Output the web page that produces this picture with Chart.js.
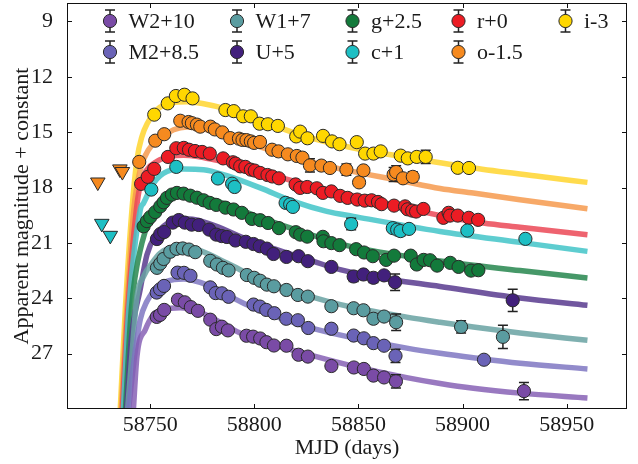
<!DOCTYPE html>
<html>
<head>
<meta charset="utf-8">
<script src="https://cdn.jsdelivr.net/npm/chart.js@4/dist/chart.umd.min.js"></script>
<style>
  html, body { margin: 0; padding: 0; background: #fff; }
  #wrap { position: relative; width: 638px; height: 464px; }
</style>
</head>
<body>
<div id="wrap"><canvas id="lc"></canvas></div>
<script>
// Multi-band light curve: apparent magnitudes vs MJD, each band shifted by a constant.
const bandNames   = ['W2', 'M2', 'W1', 'U', 'g', 'c', 'r', 'o', 'i'];
const bandOffsets = [10, 8.5, 7, 5, 2.5, 1, 0, -1.5, -3];
const bandLabels  = ['W2+10', 'M2+8.5', 'W1+7', 'U+5', 'g+2.5', 'c+1', 'r+0', 'o-1.5', 'i-3'];

const xTickValues = [58750, 58800, 58850, 58900, 58950];
const yTickValues = [9, 12, 15, 18, 21, 24, 27];

// --- observed photometry ---
const mjdW2 = [58753.1,58754.7,58756.7,58763.3,58766.6,58769.5,58772.9,58778.8,58781.7,58784.4,58787.3,58796.2,58799.4,58802.8,58805.8,58809.4,58815.4,58821.2,58825.7,58837.0,58847.8,58852.6,58857.2,58862.3,58868.0,58929.5];
const magW2 = [15.01,14.90,14.63,14.08,14.22,14.48,14.68,15.16,15.67,15.54,15.74,16.03,16.08,16.18,16.38,16.56,16.57,17.06,17.16,17.67,17.75,17.83,18.19,18.29,18.50,19.03];
const errW2 = [0.05,0.05,0.05,0.05,0.05,0.05,0.05,0.05,0.05,0.05,0.05,0.05,0.05,0.05,0.05,0.05,0.05,0.05,0.05,0.05,0.05,0.05,0.05,0.05,0.36,0.47];

const mjdM2 = [58753.1,58754.7,58756.6,58763.1,58766.2,58769.3,58778.8,58781.4,58784.4,58787.6,58799.6,58802.7,58805.7,58809.6,58815.3,58820.9,58825.9,58837.0,58847.7,58852.6,58857.2,58862.3,58867.8,58910.3];
const magM2 = [15.19,15.01,14.83,14.11,14.12,14.28,14.91,15.22,15.23,15.42,15.84,15.95,16.13,16.31,16.61,16.69,17.11,17.15,17.52,17.67,17.93,18.07,18.62,18.83];
const errM2 = [0.05,0.05,0.05,0.05,0.05,0.05,0.05,0.05,0.05,0.05,0.05,0.05,0.05,0.05,0.05,0.05,0.05,0.05,0.05,0.05,0.05,0.05,0.36,0.10];

const mjdW1 = [58753.2,58754.8,58756.4,58759.6,58762.6,58765.6,58768.6,58771.6,58778.8,58782.0,58784.9,58787.6,58796.4,58799.9,58802.8,58806.0,58809.4,58815.4,58820.9,58825.7,58837.0,58847.7,58852.4,58857.2,58862.3,58868.1,58899.3,58919.4];
const magW1 = [15.35,15.12,14.87,14.48,14.32,14.30,14.36,14.50,14.97,15.17,15.35,15.49,15.74,15.89,16.05,16.26,16.35,16.55,16.82,16.91,17.43,17.54,17.65,18.11,17.99,18.30,18.55,19.09];
const errW1 = [0.05,0.05,0.05,0.05,0.05,0.05,0.05,0.05,0.05,0.05,0.05,0.05,0.05,0.05,0.05,0.05,0.05,0.05,0.05,0.05,0.05,0.05,0.05,0.20,0.20,0.45,0.33,0.63];

const mjdU = [58753.2,58754.8,58756.7,58760.8,58763.7,58766.6,58769.9,58773.3,58778.3,58781.7,58784.3,58786.8,58790.9,58795.9,58799.6,58802.6,58806.0,58809.2,58815.4,58821.2,58825.7,58837.0,58847.7,58852.4,58857.2,58862.3,58867.6,58924.1];
const magU = [15.79,15.52,15.41,14.90,14.76,14.90,15.01,15.03,15.28,15.55,15.63,15.68,15.87,15.94,16.06,16.18,16.31,16.60,16.76,16.72,16.99,17.30,17.82,17.71,17.89,17.76,18.13,19.11];
const errU = [0.05,0.05,0.05,0.05,0.05,0.05,0.05,0.05,0.05,0.05,0.05,0.05,0.05,0.05,0.05,0.05,0.05,0.05,0.05,0.05,0.05,0.05,0.27,0.05,0.25,0.05,0.45,0.60];

const mjdG = [58746.8,58748.4,58750.0,58752.4,58754.8,58756.4,58758.0,58760.4,58762.8,58766.0,58769.2,58772.4,58775.6,58778.5,58781.7,58786.1,58790.0,58794.0,58798.8,58802.8,58806.6,58811.8,58819.9,58822.0,58825.4,58832.9,58833.2,58837.0,58840.9,58848.9,58852.7,58856.9,58863.3,58867.1,58875.1,58878.0,58881.3,58884.4,58887.8,58894.1,58898.1,58904.1,58907.6];
const magG = [17.60,17.32,17.10,16.83,16.52,16.30,16.06,15.88,15.79,15.83,15.94,16.05,16.19,16.33,16.44,16.59,16.69,16.87,17.20,17.27,17.42,17.70,17.92,18.05,18.16,18.17,18.41,18.51,18.62,18.84,19.02,19.22,19.42,19.19,19.19,19.67,19.42,19.44,19.73,19.58,19.80,20.00,19.98];
const errG = [0.05,0.05,0.05,0.05,0.05,0.05,0.05,0.05,0.05,0.05,0.05,0.05,0.05,0.05,0.05,0.05,0.05,0.05,0.05,0.05,0.05,0.05,0.05,0.05,0.05,0.05,0.05,0.05,0.05,0.05,0.05,0.05,0.05,0.05,0.05,0.05,0.05,0.05,0.05,0.05,0.05,0.05,0.05];

const mjdC = [58750.5,58762.5,58782.5,58789.3,58790.5,58815.0,58817.2,58818.5,58846.5,58866.5,58868.6,58870.2,58874.3,58902.3,58930.2];
const magC = [17.11,15.88,16.51,16.79,16.97,17.83,17.91,18.05,18.98,19.20,19.28,19.36,19.24,19.33,19.78];
const errC = [0.05,0.05,0.05,0.05,0.05,0.05,0.05,0.05,0.31,0.05,0.05,0.25,0.05,0.05,0.05];

const mjdR = [58745.6,58748.8,58751.9,58758.5,58762.5,58766.1,58768.6,58771.5,58774.9,58778.6,58785.0,58789.7,58791.0,58793.2,58795.7,58798.3,58800.2,58802.8,58806.3,58808.6,58811.8,58819.8,58822.0,58825.4,58830.0,58832.9,58837.0,58841.2,58844.8,58849.4,58853.0,58856.3,58859.4,58861.1,58867.1,58872.4,58873.6,58875.8,58877.7,58881.2,58890.8,58893.3,58894.0,58897.7,58903.0,58907.5];
const magR = [17.80,17.42,16.99,16.34,15.87,15.85,15.95,16.02,16.07,16.16,16.42,16.63,16.70,16.85,16.88,17.03,17.08,17.21,17.32,17.40,17.50,17.83,18.02,17.97,18.04,18.29,18.21,18.45,18.56,18.65,18.71,18.69,18.78,18.90,18.98,19.02,19.18,19.25,19.30,19.16,19.64,19.37,19.52,19.52,19.64,19.75];
const errR = [0.05,0.05,0.05,0.05,0.05,0.05,0.05,0.05,0.05,0.05,0.05,0.05,0.05,0.05,0.05,0.05,0.05,0.05,0.05,0.05,0.05,0.05,0.05,0.05,0.05,0.05,0.05,0.05,0.05,0.05,0.05,0.05,0.05,0.05,0.05,0.05,0.05,0.05,0.05,0.05,0.05,0.05,0.05,0.05,0.05,0.05];

const mjdO = [58744.7,58752.4,58756.7,58764.4,58768.4,58770.0,58772.4,58774.0,58778.9,58781.0,58784.6,58788.4,58792.6,58794.3,58796.2,58798.3,58799.9,58802.7,58808.5,58811.6,58816.1,58820.4,58823.1,58826.7,58832.2,58836.3,58844.2,58850.3,58852.4,58866.9,58868.1,58871.4,58876.1];
const magO = [18.11,16.96,16.61,15.88,15.95,16.01,16.09,16.20,16.20,16.35,16.51,16.82,16.85,16.92,16.93,17.00,17.08,17.03,17.45,17.54,17.70,17.79,17.88,18.30,18.31,18.44,18.53,19.22,18.57,18.79,18.66,19.00,18.92];
const errO = [0.05,0.05,0.05,0.05,0.05,0.05,0.05,0.05,0.05,0.05,0.05,0.05,0.05,0.05,0.05,0.05,0.05,0.05,0.05,0.05,0.05,0.05,0.05,0.36,0.05,0.05,0.30,0.05,0.05,0.38,0.34,0.05,0.27];

const mjdI = [58751.9,58758.4,58762.3,58766.4,58770.3,58786.1,58790.1,58794.6,58798.3,58802.5,58806.5,58811.3,58820.1,58822.0,58825.5,58833.0,58837.3,58840.9,58849.2,58853.2,58857.2,58860.7,58870.3,58873.7,58878.0,58882.3,58897.7,58903.1];
const magI = [17.05,16.44,16.04,15.97,16.17,16.80,16.86,17.14,17.14,17.54,17.57,17.66,18.23,17.97,18.33,18.20,18.50,18.65,18.54,19.16,19.16,19.04,19.27,19.42,19.34,19.34,19.93,19.94];
const errI = [0.05,0.05,0.05,0.05,0.05,0.05,0.05,0.05,0.05,0.05,0.05,0.05,0.05,0.05,0.05,0.05,0.05,0.05,0.05,0.05,0.25,0.05,0.05,0.05,0.05,0.36,0.05,0.05];

// --- pre-explosion upper limits ---
const limMjdC = [58726.7, 58730.8];
const limMagC = [18.95, 19.60];
const limMjdO = [58724.8, 58735.4, 58736.6];
const limMagO = [19.21, 18.50, 18.64];

// --- model light curves ---
const modMjdW2 = [58741.8,58743.6,58747.6,58751.6,58756.4,58764.4,58770.8,58778.8,58793.2,58809.2,58828.4,58847.6,58873.2,58889.2,58905.2,58927.6,58960.0];
const modMagW2 = [20.2,17.15,15.70,14.89,14.62,14.52,14.62,15.01,15.88,16.51,17.12,17.68,18.30,18.62,18.88,19.14,19.40];
const modMjdM2 = [58739.4,58742.3,58745.2,58748.4,58752.4,58758.0,58766.0,58774.0,58783.6,58796.4,58812.4,58828.4,58847.6,58873.2,58889.2,58905.2,58927.6,58960.0];
const modMagM2 = [21.7,18.8,16.65,15.66,15.03,14.58,14.45,14.64,15.13,15.85,16.57,17.15,17.65,18.20,18.48,18.72,19.02,19.33];
const modMjdW1 = [58739.0,58741.4,58743.6,58746.8,58750.8,58754.8,58761.2,58767.6,58774.0,58786.8,58802.8,58818.8,58834.8,58847.6,58873.2,58889.2,58905.2,58927.6,58960.0];
const modMagW1 = [23.2,19.76,16.9,15.81,15.09,14.55,14.25,14.22,14.42,15.09,15.99,16.62,17.15,17.50,18.02,18.30,18.56,18.88,19.28];
const modMjdU = [58738.5,58740.9,58745.2,58748.4,58752.4,58758.0,58764.4,58771.6,58781.2,58798.0,58828.4,58841.2,58858.0,58889.2,58927.6,58960.0];
const modMagU = [25.2,21.2,18.5,16.64,15.6,14.96,14.69,14.74,15.07,15.88,17.0,17.45,17.85,18.36,18.98,19.38];
const modMjdG = [58738.0,58740.9,58746.0,58750.0,58754.8,58761.2,58767.6,58777.2,58788.4,58802.8,58828.4,58841.2,58860.4,58889.2,58927.6,58960.0];
const modMagG = [27.7,22.1,18.5,17.24,16.52,15.98,15.89,16.07,16.48,17.13,18.1,18.55,19.0,19.48,20.0,20.40];
const modMjdC = [58737.0,58739.7,58745.2,58746.8,58751.6,58758.0,58766.0,58775.6,58786.8,58802.8,58818.8,58834.8,58847.6,58889.2,58927.6,58960.0];
const modMagC = [29.2,23.6,18.2,17.84,16.76,16.13,16.00,16.03,16.36,17.02,17.75,18.29,18.56,19.38,19.97,20.46];
const modMjdR = [58736.5,58739.2,58743.3,58745.2,58748.4,58753.2,58760.0,58766.0,58772.0,58782.0,58794.8,58810.8,58828.4,58847.6,58873.2,58892.0,58910.0,58927.6,58960.0];
const modMagR = [30.2,24.6,19.2,17.85,17.03,16.58,16.30,16.25,16.30,16.53,16.85,17.40,17.94,18.44,19.12,19.58,19.92,20.15,20.56];
const modMjdO = [58736.0,58738.7,58742.1,58745.2,58749.2,58754.8,58761.2,58767.6,58775.6,58786.8,58802.8,58818.8,58841.2,58870.0,58889.2,58905.2,58927.6,58960.0];
const modMagO = [31.7,26.1,20.7,18.53,17.45,16.82,16.37,16.22,16.33,16.64,17.30,17.85,18.49,19.12,19.55,19.80,20.16,20.65];
const modMjdI = [58735.5,58738.0,58741.2,58743.6,58746.0,58748.7,58753.2,58759.6,58767.6,58775.6,58786.8,58802.8,58822.0,58847.6,58873.2,58905.2,58937.2,58960.0];
const modMagI = [33.2,27.6,22.2,19.49,18.23,17.50,16.78,16.42,16.35,16.46,16.75,17.36,18.14,18.86,19.36,19.94,20.40,20.72];

// --- styling per band ---
const markerColors = ['#7A4BA6', '#6A63B7', '#5A9CA0', '#42207C', '#137A3B', '#1DBFC4', '#EC1C24', '#F68A1F', '#FFD700'];
const lineColors = [
  'rgba(130,92,178,0.82)', 'rgba(122,114,192,0.82)', 'rgba(104,162,162,0.85)',
  'rgba(88,58,142,0.85)', 'rgba(38,134,78,0.85)', 'rgba(66,196,200,0.85)',
  'rgba(235,72,86,0.85)', 'rgba(246,154,78,0.85)', 'rgba(255,214,52,0.88)'
];

const obs = {
  W2: [mjdW2, magW2, errW2], M2: [mjdM2, magM2, errM2], W1: [mjdW1, magW1, errW1],
  U: [mjdU, magU, errU], g: [mjdG, magG, errG], c: [mjdC, magC, errC],
  r: [mjdR, magR, errR], o: [mjdO, magO, errO], i: [mjdI, magI, errI]
};
const model = {
  W2: [modMjdW2, modMagW2], M2: [modMjdM2, modMagM2], W1: [modMjdW1, modMagW1],
  U: [modMjdU, modMagU], g: [modMjdG, modMagG], c: [modMjdC, modMagC],
  r: [modMjdR, modMagR], o: [modMjdO, modMagO], i: [modMjdI, modMagI]
};
const limits = { c: [limMjdC, limMagC], o: [limMjdO, limMagO] };

const shifted = (xs, ys, off) => xs.map((x, k) => ({ x: x, y: ys[k] + off }));

const datasets = [];
bandNames.forEach((b, k) => {
  const [mx, my] = model[b];
  datasets.push({
    label: bandLabels[k] + ' model',
    data: shifted(mx, my, bandOffsets[k]),
    showLine: true,
    borderColor: lineColors[k],
    borderWidth: 5.5,
    pointRadius: 0,
    pointHoverRadius: 0,
    cubicInterpolationMode: 'monotone',
    order: 3
  });
});
bandNames.forEach((b, k) => {
  const [ox, oy, oe] = obs[b];
  datasets.push({
    label: bandLabels[k],
    data: shifted(ox, oy, bandOffsets[k]),
    errs: oe,
    showLine: false,
    backgroundColor: markerColors[k],
    borderColor: '#2a2a2a',
    borderWidth: 1,
    pointRadius: 6.6,
    pointHoverRadius: 6.6,
    order: 1
  });
  if (limits[b]) {
    const [lx, ly] = limits[b];
    datasets.push({
      label: bandLabels[k] + ' limit',
      data: shifted(lx, ly, bandOffsets[k]),
      showLine: false,
      pointStyle: 'triangle',
      rotation: 180,
      backgroundColor: markerColors[k],
      borderColor: '#2a2a2a',
      borderWidth: 1,
      pointRadius: 8.4,
      pointHoverRadius: 8.4,
      order: 1
    });
  }
});

const FONT = "'Liberation Serif', 'Times New Roman', serif";
const FONT_SIZE = 22;
const TEXT = '#1a1a1a';

// vertical error bars drawn just beneath each marker set
const errorBars = {
  id: 'errorBars',
  beforeDatasetDraw(chart, args) {
    const ds = chart.data.datasets[args.index];
    if (!ds.errs) return;
    const ys = chart.scales.y, ctx = chart.ctx;
    ctx.save();
    ctx.strokeStyle = '#222';
    ctx.lineWidth = 1.5;
    args.meta.data.forEach((pt, n) => {
      const e = ds.errs[n];
      if (!e) return;
      const v = ds.data[n].y;
      const y1 = ys.getPixelForValue(v - e), y2 = ys.getPixelForValue(v + e);
      ctx.beginPath();
      ctx.moveTo(pt.x, y1); ctx.lineTo(pt.x, y2);
      ctx.moveTo(pt.x - 5, y1); ctx.lineTo(pt.x + 5, y1);
      ctx.moveTo(pt.x - 5, y2); ctx.lineTo(pt.x + 5, y2);
      ctx.stroke();
    });
    ctx.restore();
  }
};

// closed box with inward ticks on all four sides
const frame = {
  id: 'frame',
  afterDatasetsDraw(chart) {
    const { ctx, chartArea: a, scales: { x, y } } = chart;
    ctx.save();
    ctx.strokeStyle = '#111';
    ctx.lineWidth = 1;
    ctx.strokeRect(a.left + 0.5, a.top + 0.5, a.right - a.left - 1, a.bottom - a.top - 1);
    ctx.beginPath();
    x.ticks.forEach(t => {
      const px = Math.round(x.getPixelForValue(t.value)) + 0.5;
      ctx.moveTo(px, a.bottom); ctx.lineTo(px, a.bottom - 5);
      ctx.moveTo(px, a.top); ctx.lineTo(px, a.top + 5);
    });
    y.ticks.forEach(t => {
      const py = Math.round(y.getPixelForValue(t.value)) + 0.5;
      ctx.moveTo(a.left, py); ctx.lineTo(a.left + 5, py);
      ctx.moveTo(a.right, py); ctx.lineTo(a.right - 5, py);
    });
    ctx.stroke();
    ctx.restore();
  }
};

// two-row legend, filled column by column, with errorbar-style handles
const bandLegend = {
  id: 'bandLegend',
  afterDraw(chart) {
    const ctx = chart.ctx;
    const colX = [110, 237, 352.5, 458.5, 565.5];
    const rowY = [21, 52];
    ctx.save();
    ctx.font = FONT_SIZE + 'px ' + FONT;
    ctx.textBaseline = 'middle';
    ctx.textAlign = 'left';
    bandLabels.forEach((lab, k) => {
      const cx = colX[Math.floor(k / 2)], cy = rowY[k % 2];
      ctx.strokeStyle = '#222';
      ctx.lineWidth = 1.5;
      ctx.beginPath();
      ctx.moveTo(cx, cy - 11); ctx.lineTo(cx, cy + 11);
      ctx.moveTo(cx - 5, cy - 11); ctx.lineTo(cx + 5, cy - 11);
      ctx.moveTo(cx - 5, cy + 11); ctx.lineTo(cx + 5, cy + 11);
      ctx.stroke();
      ctx.beginPath();
      ctx.arc(cx, cy, 6.6, 0, Math.PI * 2);
      ctx.fillStyle = markerColors[k];
      ctx.fill();
      ctx.lineWidth = 1;
      ctx.strokeStyle = '#2a2a2a';
      ctx.stroke();
      ctx.fillStyle = TEXT;
      ctx.fillText(lab, cx + 18.5, cy + 1);
    });
    ctx.restore();
  }
};

new Chart(document.getElementById('lc'), {
  type: 'scatter',
  data: { datasets: datasets },
  options: {
    responsive: true,
    maintainAspectRatio: false,
    animation: false,
    events: [],
    layout: { padding: { top: 3, right: 11, left: 0, bottom: 0 }, autoPadding: false },
    plugins: { legend: { display: false }, tooltip: { enabled: false } },
    scales: {
      x: {
        type: 'linear',
        min: 58710,
        max: 58979,
        afterBuildTicks: s => { s.ticks = xTickValues.map(v => ({ value: v })); },
        afterFit: s => { s.height = 55; s.paddingLeft = 0; s.paddingRight = 0; },
        grid: { display: false, drawTicks: false },
        border: { display: false },
        ticks: { padding: 3, color: TEXT, font: { family: FONT, size: FONT_SIZE }, callback: v => String(v), maxRotation: 0 },
        title: { display: true, text: 'MJD (days)', color: TEXT, font: { family: FONT, size: FONT_SIZE }, padding: { top: 0, bottom: 3 } }
      },
      y: {
        type: 'linear',
        reverse: true,
        min: 8,
        max: 30,
        afterBuildTicks: s => { s.ticks = yTickValues.map(v => ({ value: v })); },
        afterFit: s => { s.width = 67; s.paddingTop = 0; s.paddingBottom = 0; },
        grid: { display: false, drawTicks: false },
        border: { display: false },
        ticks: { padding: 14, color: TEXT, font: { family: FONT, size: FONT_SIZE }, callback: v => String(v) },
        title: { display: true, text: 'Apparent magnitude + constant', color: TEXT, font: { family: FONT, size: FONT_SIZE }, padding: { top: 9, bottom: 0 } }
      }
    }
  },
  plugins: [errorBars, frame, bandLegend]
});
</script>
</body>
</html>
